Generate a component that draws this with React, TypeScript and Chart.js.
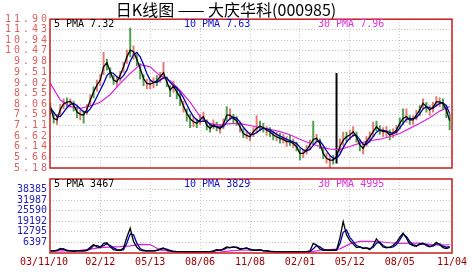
import React, { useEffect, useRef } from 'react';
import { Chart, registerables } from 'chart.js';

Chart.register(...registerables);

const TITLE = '日K线图 —— 大庆华科(000985)';
const DATE_LABELS = ['03/11/10', '02/12', '05/13', '08/06', '11/08', '02/01', '05/12', '08/05', '11/04'];
const DATE_TICK_INDEX = [-1.9, 15, 30, 45, 60, 75, 90, 105, 120.7];
const X_MIN = -0.1;
const X_MAX = 120.7;
const PRICE_TICKS = [5.18, 5.66, 6.14, 6.62, 7.11, 7.59, 8.06, 8.55, 9.02, 9.51, 9.98, 10.47, 10.94, 11.43, 11.9];
const VOL_TICKS = [6397, 12795, 19192, 25590, 31987, 38385];
const VOL_MAX = 44782;
const PRICE_LEGEND = ['5 PMA 7.32', '10 PMA 7.63', '30 PMA 7.96'];
const VOL_LEGEND = ['5 PMA 3467', '10 PMA 3829', '30 PMA 4995'];

// price moving averages
const PMA5 = [
  7.95, 7.42, 7.35, 7.83, 8.07, 8.16, 8.19, 8.02, 7.72, 7.6, 7.57,
  7.83, 8.25, 8.62, 8.92, 9.15, 9.75, 9.93, 9.53, 9.15, 9.07,
  9.38, 9.75, 10.2, 10.5, 10.43, 10.08, 9.68, 9.22, 9.0, 8.97,
  9.03, 9.12, 9.3, 9.48, 9.07, 8.7, 8.88, 8.62, 8.37, 7.98,
  7.65, 7.41, 7.27, 7.2, 7.35, 7.5, 7.12, 6.97, 7.12, 7.04,
  6.95, 7.16, 7.57, 7.57, 7.42, 7.32, 7.04, 6.74, 6.65, 6.59,
  6.82, 6.97, 7.07, 7.01, 6.89, 6.82, 6.67, 6.59, 6.52, 6.47,
  6.37, 6.37, 6.29, 6.14, 5.84, 5.84, 5.99, 6.22, 6.47, 6.52,
  6.29, 5.84, 5.62, 5.54, 5.54, 5.69, 6.14, 6.44, 6.59, 6.67,
  6.82, 6.59, 6.22, 6.07, 6.37, 6.59, 6.82, 7.04, 6.89, 6.82,
  6.82, 6.67, 6.74, 6.89, 7.2, 7.42, 7.5, 7.35, 7.35, 7.57,
  7.8, 8.1, 7.95, 7.8, 7.92, 8.17, 8.17, 8.1, 7.8, 7.32,
];
const PMA10 = [
  7.9, 7.7, 7.5, 7.5, 7.7, 7.9, 8.05, 8.1, 8.0, 7.85, 7.72,
  7.7, 7.85, 8.1, 8.4, 8.7, 9.0, 9.35, 9.5, 9.45, 9.3,
  9.2, 9.35, 9.6, 10.0, 10.3, 10.4, 10.2, 9.85, 9.45, 9.15,
  9.05, 9.05, 9.15, 9.25, 9.25, 9.05, 8.9, 8.8, 8.6, 8.35,
  8.05, 7.75, 7.5, 7.35, 7.28, 7.3, 7.3, 7.15, 7.05, 7.05,
  7.02, 7.05, 7.25, 7.4, 7.48, 7.42, 7.25, 7.02, 6.85, 6.7,
  6.7, 6.78, 6.9, 6.98, 6.95, 6.9, 6.8, 6.7, 6.62, 6.55,
  6.47, 6.42, 6.36, 6.28, 6.12, 6.0, 5.95, 6.02, 6.2, 6.38,
  6.4, 6.2, 5.95, 5.75, 5.62, 5.62, 5.8, 6.1, 6.35, 6.52,
  6.65, 6.65, 6.45, 6.25, 6.25, 6.4, 6.6, 6.8, 6.9, 6.88,
  6.85, 6.78, 6.75, 6.8, 6.98, 7.2, 7.38, 7.42, 7.4, 7.45,
  7.62, 7.85, 7.95, 7.9, 7.88, 8.0, 8.1, 8.12, 8.0, 7.63,
];
const PMA30_STEP = 3;
const PMA30 = [
  9.0, 8.25, 7.95, 7.87, 7.98, 8.15, 8.5, 9.0, 9.45, 9.85, 9.75,
  9.33, 9.12, 8.68, 8.15, 7.5, 7.18, 7.12, 7.18, 7.18, 7.1,
  7.0, 6.93, 6.82, 6.68, 6.48, 6.3, 6.15, 6.03, 6.02, 6.15,
  6.3, 6.41, 6.48, 6.59, 6.74, 6.97, 7.2, 7.45, 7.75, 7.96,
];

// candles: low, high and direction (1 up, -1 down, 0 flat)
const CANDLE_LOW = [
  7.6, 7.2, 7.15, 7.55, 7.85, 7.95, 7.95, 7.75, 7.45, 7.35, 7.2,
  7.6, 8.0, 8.35, 8.65, 8.9, 9.4, 9.6, 9.25, 8.95, 8.85,
  9.1, 9.5, 9.9, 10.2, 10.1, 9.8, 9.2, 8.9, 8.75, 8.75,
  8.8, 8.9, 9.05, 9.2, 8.85, 8.4, 8.6, 8.3, 8.0, 7.7,
  7.3, 7.0, 7.05, 7.0, 7.15, 7.3, 6.9, 6.8, 6.95, 6.85,
  6.75, 6.95, 7.3, 7.35, 7.2, 7.1, 6.8, 6.55, 6.5, 6.4,
  6.6, 6.75, 6.85, 6.8, 6.65, 6.6, 6.45, 6.4, 6.3, 6.3,
  6.15, 6.2, 6.1, 5.95, 5.55, 5.65, 5.8, 6.0, 6.25, 6.3,
  6.05, 5.6, 5.4, 5.2, 5.35, 5.4, 5.9, 6.2, 6.35, 6.45,
  6.6, 6.35, 5.95, 5.82, 6.15, 6.35, 6.6, 6.85, 6.7, 6.6,
  6.6, 6.45, 6.55, 6.7, 6.95, 7.15, 7.25, 7.15, 7.15, 7.35,
  7.55, 7.85, 7.7, 7.55, 7.7, 7.95, 7.95, 7.85, 7.45, 6.9,
];
const CANDLE_HIGH = [
  8.1, 7.7, 7.6, 8.05, 8.3, 8.35, 8.3, 8.2, 7.95, 7.8, 7.75,
  8.05, 8.5, 8.85, 9.15, 9.4, 10.4, 10.1, 9.7, 9.35, 9.3,
  9.55, 9.95, 10.5, 11.5, 10.7, 10.3, 9.9, 9.4, 9.2, 9.15,
  9.25, 9.35, 9.5, 9.95, 9.3, 8.9, 9.1, 8.85, 8.55, 8.2,
  7.85, 7.6, 7.5, 7.4, 7.6, 7.7, 7.35, 7.2, 7.35, 7.25,
  7.15, 7.4, 7.95, 7.85, 7.6, 7.5, 7.25, 6.95, 6.85, 6.8,
  7.0, 7.55, 7.3, 7.2, 7.05, 7.0, 6.85, 6.8, 6.75, 6.7,
  6.6, 6.65, 6.5, 6.35, 6.05, 6.0, 6.2, 6.45, 7.3, 6.7,
  6.5, 6.1, 5.85, 5.75, 5.75, 9.45, 6.5, 6.8, 6.8, 6.9,
  7.05, 6.8, 6.45, 6.3, 6.6, 6.8, 7.25, 7.3, 7.1, 7.0,
  7.05, 6.9, 6.95, 7.1, 7.45, 7.85, 7.85, 7.55, 7.55, 7.8,
  8.0, 8.3, 8.15, 8.0, 8.15, 8.4, 8.35, 8.3, 8.0, 7.6,
];
const CANDLE_DIR = [
  -1, -1, 1, 1, 1, -1, 1, -1, -1, 1, -1,
  1, 1, -1, 1, 1, 1, -1, -1, -1, 1,
  1, 1, 1, -1, 1, -1, -1, -1, 1, 1,
  1, -1, 1, 1, -1, -1, 1, -1, -1, 1,
  -1, -1, 1, -1, 1, 1, -1, -1, 1, -1,
  1, 1, -1, 1, -1, -1, 1, -1, 1, 1,
  1, 1, -1, -1, 1, -1, -1, 1, -1, 1,
  1, -1, 1, -1, -1, 1, 1, 1, -1, 1,
  -1, -1, 1, 1, -1, 0, 1, 1, -1, 1,
  1, -1, -1, 1, 1, 1, 1, -1, -1, 1,
  1, -1, 1, 1, -1, -1, 1, -1, 1, 1,
  -1, 1, -1, 1, 1, 1, 1, -1, -1, -1,
];

// volume moving averages
const VOL_PMA5 = [
  1250, 1250, 1660, 2690, 2300, 1250, 1250, 1050, 1250, 1250,
  1250, 1660, 3500, 5145, 3710, 3300, 5800, 6170, 3700, 2100,
  1660, 1660, 3000, 9500, 14985, 7000, 3500, 1660, 1250, 1250,
  1250, 1250, 1660, 2500, 3095, 1660, 1250, 800, 635, 635,
  635, 635, 635, 800, 635, 635, 800, 635, 800, 1250,
  2070, 1660, 2500, 3710, 3300, 3710, 3300, 2300, 2690, 3095,
  2070,
  1660, 1660, 2070, 1250, 1250, 900, 800, 635, 635, 635,
  635, 635, 635, 800, 635, 635, 800, 1250, 5800, 4800,
  2500, 1660, 1660, 1660, 1660, 1660, 9000, 19000, 11000, 7500,
  5500, 3300, 3710, 2690, 3095, 2070, 4500, 8500, 6000, 3700,
  3095, 3500, 4500, 6500, 9500, 12000, 9000, 5500, 4500, 4100,
  5500, 6000, 4500, 3710, 4500, 6500, 5000, 3300, 2690, 3467,
];
const VOL_PMA10 = [
  1250, 1250, 1450, 2300, 2500, 1660, 1250, 1250, 1250, 1250,
  1250, 1450, 2500, 4500, 4500, 3700, 4500, 5500, 4500, 3095,
  2070, 1660, 2070, 6000, 11500, 11000, 6000, 2690, 1660, 1250,
  1250, 1250, 1450, 2070, 2690, 2300, 1660, 1050, 800, 635,
  635, 635, 635, 635, 635, 635, 635, 635, 635, 1050,
  1660, 1660, 2070, 3095, 3300, 3500, 3500, 2690, 2690, 2900,
  2300,
  1860, 1660, 1860, 1450, 1250, 1050, 900, 800, 635, 635,
  635, 635, 635, 635, 635, 635, 635, 800, 2500, 4500,
  3710, 2300, 1660, 1660, 1660, 1660, 5500, 12500, 13960, 9500,
  7000, 4500, 3710, 3095, 3095, 2690, 3300, 6000, 6500, 4500,
  3500, 3300, 3710, 5000, 8000, 11300, 10000, 7000, 5000, 4500,
  5000, 5500, 5000, 4100, 4100, 5500, 5500, 4100, 3500, 3829,
];
const VOL_PMA30 = [
  1250, 1250, 1450, 1660, 2300, 3300, 3500, 3800, 4300, 5200, 5100,
  1800, 900, 600, 400, 300, 300, 600, 1250, 1660, 1800,
  1660, 900, 400, 300, 300, 500, 1660, 2070, 2500, 5500,
  7000, 7000, 6800, 6200, 5800, 6000, 6000, 5200, 4800, 4995,
];

const MONO = '"DejaVu Sans Mono", monospace';
const GRID = '#c8c8c8';
const BOX = '#c81e1e';
const UP = '#e47a72';
const DOWN = '#4aa24a';
const FLAT = '#000000';
const C_BLACK = '#000000';
const C_BLUE = '#0000b0';
const C_MAG = '#e020e0';
const LEGEND_COLORS = ['#000000', '#1010c8', '#e030e0'];
const LEGEND_DX = [4, 134, 268];

const pts = (arr: number[], step = 1) => arr.map((v, k) => ({ x: k * step, y: v }));

const xAxis = (showLabels: boolean): any => ({
  type: 'linear',
  min: X_MIN,
  max: X_MAX,
  bounds: 'data',
  offset: false,
  afterBuildTicks: (s: any) => {
    s.ticks = DATE_TICK_INDEX.map((v) => ({ value: v }));
  },
  afterFit: (s: any) => {
    s.paddingLeft = 0;
    s.paddingRight = 0;
    s.height = showLabels ? 15 : 0;
  },
  grid: {
    color: (c: any) => (c.index === 0 ? 'rgba(0,0,0,0)' : GRID),
    lineWidth: 1,
    drawTicks: false,
    offset: false,
  },
  border: { display: false, dash: [1, 2] },
  ticks: {
    display: showLabels,
    autoSkip: false,
    maxRotation: 0,
    minRotation: 0,
    padding: 3,
    color: '#a00000',
    font: { family: MONO, size: 10 },
    callback: (_v: any, i: number) => DATE_LABELS[i],
  },
});

const decoPlugin = (legend: string[], spacing: string) => ({
  id: 'deco',
  beforeDraw(chart: any) {
    chart.ctx.letterSpacing = '0px';
  },
  afterDatasetsDraw(chart: any) {
    chart.ctx.letterSpacing = spacing;
  },
  afterDraw(chart: any) {
    const ctx = chart.ctx;
    const a = chart.chartArea;
    ctx.letterSpacing = '0px';
    ctx.save();
    ctx.strokeStyle = BOX;
    ctx.lineWidth = 1.5;
    ctx.strokeRect(a.left, a.top, a.right - a.left, a.bottom - a.top);
    ctx.font = `10px ${MONO}`;
    ctx.textBaseline = 'middle';
    ctx.textAlign = 'left';
    legend.forEach((t, k) => {
      ctx.fillStyle = LEGEND_COLORS[k];
      ctx.fillText(t, a.left + LEGEND_DX[k], a.top + 5);
    });
    ctx.restore();
  },
});

export default function App() {
  const topRef = useRef<HTMLCanvasElement>(null);
  const botRef = useRef<HTMLCanvasElement>(null);

  useEffect(() => {
    const top = new Chart(topRef.current as HTMLCanvasElement, {
      type: 'line',
      data: {
        datasets: [
          { data: pts(PMA5), borderColor: C_BLACK, borderWidth: 1.3, pointRadius: 0, order: 1 } as any,
          { data: pts(PMA10), borderColor: C_BLUE, borderWidth: 1.3, pointRadius: 0, order: 2 } as any,
          { data: pts(PMA30, PMA30_STEP), borderColor: C_MAG, borderWidth: 1.2, pointRadius: 0, order: 3 } as any,
          {
            type: 'bar',
            data: CANDLE_LOW.map((lo, i) => ({ x: i, y: [lo, CANDLE_HIGH[i]] })),
            backgroundColor: CANDLE_DIR.map((d) => (d > 0 ? UP : d < 0 ? DOWN : FLAT)),
            borderWidth: 0,
            barThickness: 1.3,
            order: 4,
          } as any,
        ],
      },
      options: {
        responsive: false,
        animation: false,
        layout: { padding: { left: 0, right: 20, top: 0, bottom: 7 } },
        plugins: {
          legend: { display: false },
          tooltip: { enabled: false },
          title: {
            display: true,
            text: TITLE,
            color: '#000',
            font: { family: '"Noto Sans CJK SC", sans-serif', size: 16, weight: 'normal' },
            padding: { top: 0, bottom: 0 },
          },
        },
        scales: {
          x: xAxis(false),
          y: {
            type: 'linear',
            min: PRICE_TICKS[0],
            max: PRICE_TICKS[PRICE_TICKS.length - 1],
            bounds: 'data',
            afterBuildTicks: (s: any) => {
              s.ticks = PRICE_TICKS.map((v) => ({ value: v }));
            },
            afterFit: (s: any) => {
              s.width = 50;
              s.paddingTop = 0;
              s.paddingBottom = 0;
            },
            grid: { color: GRID, drawTicks: false },
            border: { display: false, dash: [1, 2] },
            ticks: {
              z: 1,
              autoSkip: false,
              padding: 0,
              color: '#e06060',
              font: { family: MONO, size: 10 },
              callback: (v: any) => Number(v).toFixed(2),
            },
          } as any,
        },
      } as any,
      plugins: [decoPlugin(PRICE_LEGEND, '3px')],
    });

    const bot = new Chart(botRef.current as HTMLCanvasElement, {
      type: 'line',
      data: {
        datasets: [
          { data: pts(VOL_PMA5), borderColor: C_BLACK, borderWidth: 1.3, pointRadius: 0, order: 1 } as any,
          { data: pts(VOL_PMA10), borderColor: C_BLUE, borderWidth: 1.3, pointRadius: 0, order: 2 } as any,
          { data: pts(VOL_PMA30, PMA30_STEP), borderColor: C_MAG, borderWidth: 1.2, pointRadius: 0, order: 3 } as any,
        ],
      },
      options: {
        responsive: false,
        animation: false,
        layout: { padding: { left: 0, right: 20, top: 4, bottom: 5 } },
        plugins: { legend: { display: false }, tooltip: { enabled: false } },
        scales: {
          x: xAxis(true),
          y: {
            type: 'linear',
            min: 0,
            max: VOL_MAX,
            bounds: 'data',
            afterBuildTicks: (s: any) => {
              s.ticks = VOL_TICKS.map((v) => ({ value: v }));
            },
            afterFit: (s: any) => {
              s.width = 50;
              s.paddingTop = 0;
              s.paddingBottom = 0;
            },
            grid: { color: GRID, drawTicks: false },
            border: { display: false, dash: [1, 2] },
            ticks: {
              autoSkip: false,
              padding: 3,
              color: '#2020c0',
              font: { family: MONO, size: 10 },
              callback: (v: any) => String(v),
            },
          } as any,
        },
      } as any,
      plugins: [decoPlugin(VOL_LEGEND, '0px')],
    });

    return () => {
      top.destroy();
      bot.destroy();
    };
  }, []);

  return (
    <div style={{ position: 'fixed', left: 0, top: 0, width: 472, height: 273, background: '#ffffff' }}>
      <canvas ref={topRef} width={472} height={175} style={{ position: 'absolute', left: 0, top: 0 }} />
      <canvas ref={botRef} width={472} height={98} style={{ position: 'absolute', left: 0, top: 175 }} />
    </div>
  );
}
